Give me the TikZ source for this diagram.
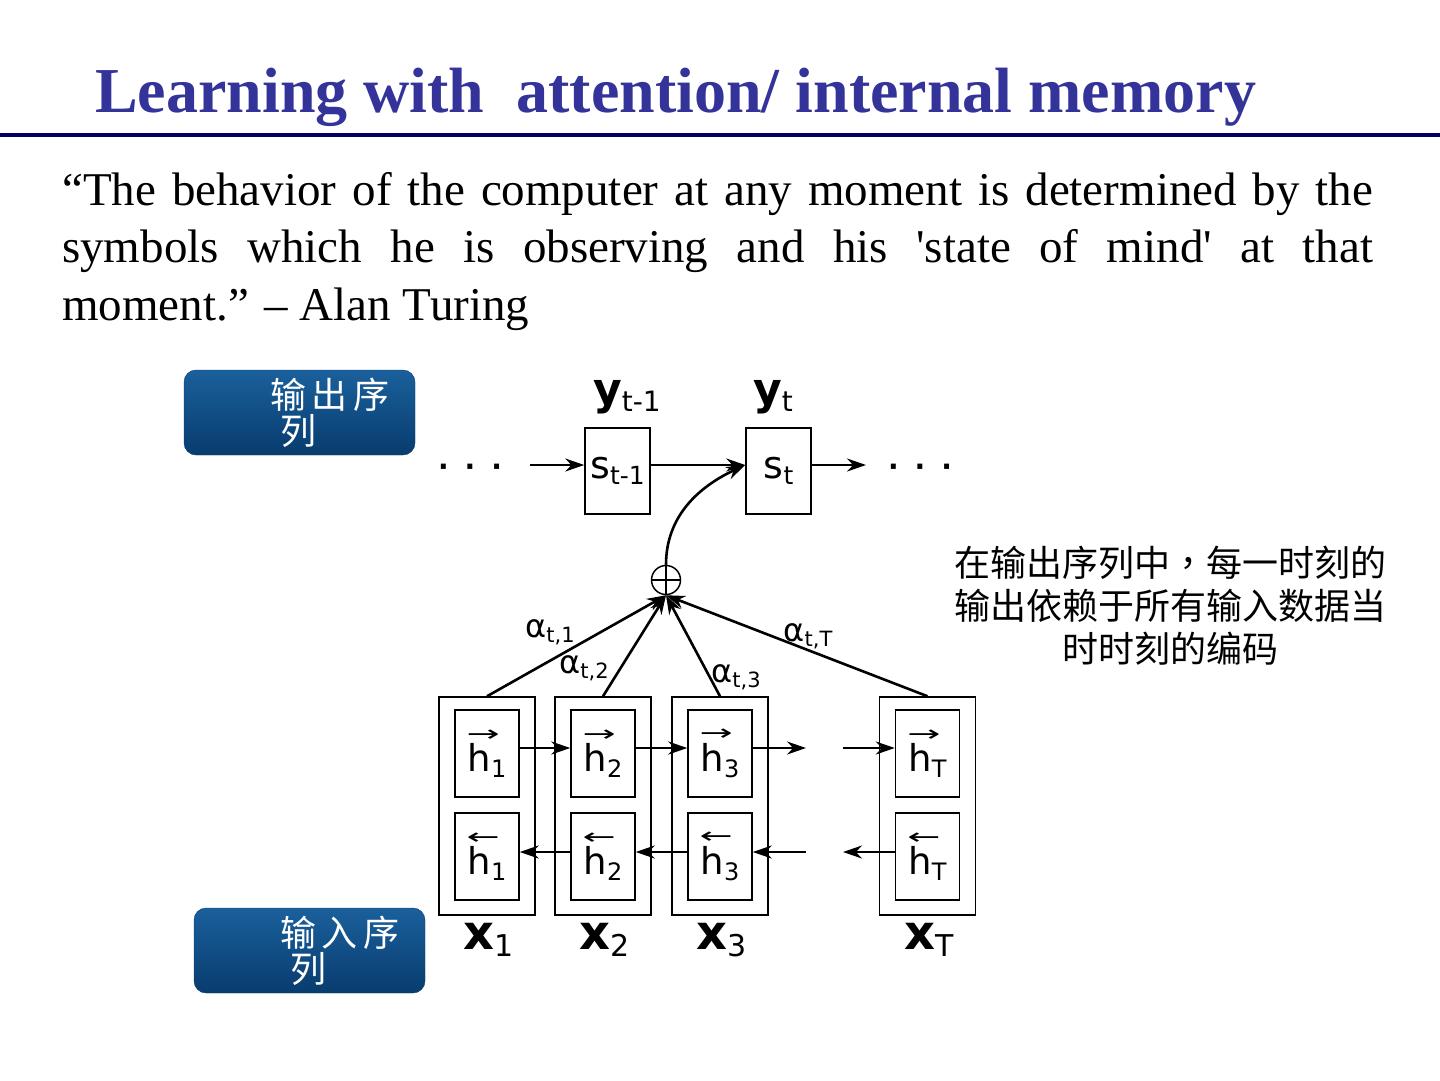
\RequirePackage{fix-cm}
\documentclass[tikz,border=0pt]{standalone}
\usepackage{fontspec}
\usepackage{graphicx}
\usepackage{tikz}
\usetikzlibrary{arrows.meta}
\setmainfont{Liberation Serif}
\newfontfamily\cjk{Noto Sans CJK SC}
\newfontfamily\cjktc{Noto Sans CJK TC}
\newfontfamily\dejavu{DejaVu Sans}
\definecolor{titleblue}{RGB}{51,51,153}
\definecolor{rulenavy}{RGB}{0,0,96}
\definecolor{boxtop}{RGB}{26,96,156}
\definecolor{boxbot}{RGB}{8,60,110}
% letter with a lowered index, sizes in pt
\newcommand{\idx}[3]{#1\raisebox{-0.3ex}{\fontsize{#3}{#3}\selectfont #2}}
\newcommand{\hf}[1]{\rlap{\kern-1pt\raisebox{0.82em}{\fontsize{22}{22}\selectfont\scalebox{1.8}[1]{→}}}h\raisebox{-0.3ex}{\fontsize{24}{24}\selectfont #1}}
\newcommand{\hb}[1]{\rlap{\kern-1pt\raisebox{0.82em}{\fontsize{22}{22}\selectfont\scalebox{1.8}[1]{←}}}h\raisebox{-0.3ex}{\fontsize{24}{24}\selectfont #1}}

\begin{document}
\begin{tikzpicture}[x=1pt, y=-1pt,
  outer/.style={draw, line width=1.5pt, minimum width=96pt, minimum height=218pt, inner sep=0pt},
  inner/.style={draw, line width=1.5pt, minimum width=64pt, minimum height=87pt, inner sep=0pt, font=\dejavu\fontsize{37}{37}\selectfont},
  state/.style={draw, line width=1.5pt, minimum width=65pt, minimum height=86pt, inner sep=0pt, font=\dejavu\fontsize{38}{38}\selectfont},
  arr/.style={-{Stealth[length=19pt, width=13pt]}, line width=2.6pt},
  seqbox/.style={rounded corners=12pt, top color=boxtop, bottom color=boxbot, draw=boxbot, text=white,
    minimum width=231pt, minimum height=85pt, text width=215pt, inner xsep=8pt, align=left,
    font=\cjk\fontsize{36}{36}\selectfont},
  sym/.style={inner sep=0pt, font=\dejavu\fontsize{44}{44}\selectfont},
  weight/.style={inner sep=0pt, font=\dejavu\fontsize{32}{32}\selectfont}]
  \useasboundingbox (0,0) rectangle (1440,1080);
  % title and rule
  \node[anchor=base west, inner sep=0pt, text=titleblue, font=\bfseries\fontsize{64}{64}\selectfont] (title) at (95,112) {Learning with\ \ attention/ internal memory};
  \draw[rulenavy, line width=4pt] (0,135) -- (1440,135);
  % quote
  \node[anchor=north west, inner sep=0pt, text width=1311pt, align=justify, font=\fontsize{47}{57.5}\selectfont] (quote) at (62,172)
    {“The behavior of the computer at any moment is determined by the\linebreak symbols which he is observing and his \textquotesingle state of mind\textquotesingle{} at that\linebreak moment.” – Alan Turing};
  % sequence labels
  \node[seqbox] (outseq) at (299.5,412.5) {\hspace*{78pt}输\hspace{6pt}出\hspace{6pt}序\\\hspace*{88pt}列};
  \node[seqbox] (inseq) at (309.5,950.5) {\hspace*{78pt}输\hspace{6pt}入\hspace{6pt}序\\\hspace*{88pt}列};
  % decoder states
  \node[state] (s1) at (617.5,471) {\idx{s}{t-1}{25}};
  \node[state] (s2) at (778.5,471) {\idx{s}{t}{25}};
  \node[sym] (y1) at (627,397) {{\bfseries y}\raisebox{-0.3ex}{\fontsize{28}{28}\selectfont t-1}};
  \node[sym] (y2) at (773,397) {{\bfseries y}\raisebox{-0.3ex}{\fontsize{28}{28}\selectfont t}};
  \node[inner sep=0pt, font=\dejavu\bfseries\fontsize{28}{28}\selectfont] (dotsL) at (470,470) {·\hspace{16pt}·\hspace{16pt}·};
  \node[inner sep=0pt, font=\dejavu\bfseries\fontsize{28}{28}\selectfont] (dotsR) at (920,470) {·\hspace{16pt}·\hspace{16pt}·};
  \coordinate (inL) at (530,465);
  \coordinate (outR) at (866,465);
  \draw[arr] (inL) -- ([yshift=6pt]s1.west);
  \draw[arr] ([yshift=6pt]s1.east) -- ([yshift=6pt]s2.west);
  \draw[arr] ([yshift=6pt]s2.east) -- (outR);
  % weighted sum
  \node[circle, draw, line width=1.5pt, minimum size=29pt, inner sep=0pt] (sum) at (666,580) {};
  \draw[line width=1.2pt] (sum.north) -- (sum.south) (sum.west) -- (sum.east);
  \draw[arr] (sum.north) to[out=90, in=205] ([yshift=6pt]s2.west);
  % encoder columns
  \foreach \n/\cx in {1/487, 2/603, 3/720, T/927.5} {
    \node[outer] (ob\n) at (\cx,806) {};
    \node[inner] (hf\n) at (\cx,753.5) {\hf{\n}};
    \node[inner] (hb\n) at (\cx,856.5) {\hb{\n}};
    \node[sym] (x\n) at (\cx+2,940) {{\bfseries\fontsize{48}{48}\selectfont x}\raisebox{-0.3ex}{\fontsize{30}{30}\selectfont\n}};
    \draw[arr] (ob\n.north) -- (sum.south);
  }
  % forward and backward chains
  \coordinate (fwdEnd) at (806,748);
  \coordinate (fwdStart) at (843,748);
  \coordinate (bwdStart) at (806,852);
  \coordinate (bwdEnd) at (843,852);
  \draw[arr] (hf1.east |- fwdEnd) -- (hf2.west |- fwdEnd);
  \draw[arr] (hf2.east |- fwdEnd) -- (hf3.west |- fwdEnd);
  \draw[arr] (hf3.east |- fwdEnd) -- (fwdEnd);
  \draw[arr] (fwdStart) -- (hfT.west |- fwdStart);
  \draw[arr] (hb2.west |- bwdEnd) -- (hb1.east |- bwdEnd);
  \draw[arr] (hb3.west |- bwdEnd) -- (hb2.east |- bwdEnd);
  \draw[arr] (bwdStart) -- (hb3.east |- bwdStart);
  \draw[arr] (hbT.west |- bwdEnd) -- (bwdEnd);
  % attention weights
  \node[weight] (a1) at (550,632) {\idx{α}{t,1}{21}};
  \node[weight] (a2) at (584,668) {\idx{α}{t,2}{21}};
  \node[weight] (a3) at (736,677) {\idx{α}{t,3}{21}};
  \node[weight] (aT) at (808,636) {\idx{α}{t,T}{21}};
  % note
  \node[align=center, inner sep=0pt, font=\cjk\fontsize{36}{43}\selectfont] (note) at (1170,606)
    {在输出序列中{\cjktc ，}每一时刻的\\输出依赖于所有输入数据当\\时时刻的编码};
\end{tikzpicture}
\end{document}
